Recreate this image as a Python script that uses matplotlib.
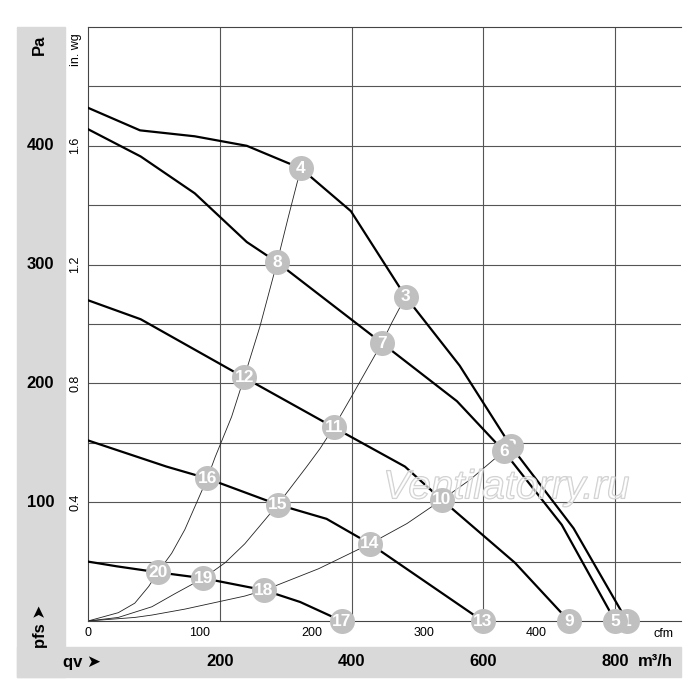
#bibliotecas
import matplotlib.pyplot as plt
import matplotlib.patheffects as pe
import matplotlib.transforms as mtransforms
from matplotlib.patches import Rectangle

#curvas do ventilador: vazao em m3/h e pressao em Pa
curva_a_q = [0, 79, 162, 241, 323, 399, 482, 564, 642, 737, 818]
curva_a_p = [432, 413, 408, 400, 381, 345, 273, 215, 147, 78, 0]

curva_b_q = [0, 80, 162, 241, 287, 446, 560, 631, 719, 800]
curva_b_p = [414, 391, 360, 319, 302, 234, 185, 143, 81, 0]

curva_c_q = [0, 80, 237, 373, 481, 537, 648, 730]
curva_c_p = [270, 254, 205, 163, 130, 102, 49, 0]

curva_d_q = [0, 119, 181, 288, 362, 428, 599]
curva_d_p = [152, 130, 120, 98, 86, 65, 0]

curva_e_q = [0, 44, 106, 175, 267, 322, 385]
curva_e_p = [50, 46, 41, 36, 26, 16, 0]

#curvas do sistema (linhas finas a partir da origem)
sistema_1_q = [0, 46, 71, 92, 106, 127, 147, 162, 181, 193, 218, 237, 261, 287, 304, 323]
sistema_1_p = [0, 7, 15, 29, 41, 57, 77, 96, 120, 138, 172, 205, 248, 302, 340, 381]

sistema_2_q = [0, 46, 97, 132, 175, 208, 238, 288, 332, 352, 373, 399, 446, 461, 482]
sistema_2_p = [0, 3, 12, 23, 36, 49, 65, 98, 130, 145, 163, 188, 234, 251, 273]

sistema_3_q = [0, 71, 97, 147, 238, 268, 350, 428, 484, 537, 580, 631, 642]
sistema_3_p = [0, 3, 5, 10, 21, 26, 44, 65, 82, 102, 119, 143, 147]

#pontos numerados 1..20
pontos_q = [818, 642, 482, 323, 800, 631, 446, 287, 730, 537,
            373, 237, 599, 428, 288, 181, 385, 267, 175, 106]
pontos_p = [0, 147, 273, 381, 0, 143, 234, 302, 0, 102,
            163, 205, 0, 65, 98, 120, 0, 26, 36, 41]

#rotulos dos eixos
pa_ticks = [100, 200, 300, 400]
inwg_ticks = ["0.4", "0.8", "1.2", "1.6"]
m3h_ticks = [200, 400, 600, 800]
cfm_ticks = [0, 100, 200, 300, 400]
CFM_PARA_M3H = 1.699

plt.rcParams['font.family'] = ['Liberation Sans', 'DejaVu Sans']

fig = plt.figure(figsize=(7, 7), dpi=100)

#faixas cinzas
fig.add_artist(Rectangle((17/700, 23/700), 48/700, 650/700, transform=fig.transFigure,
                         color='#d9d9d9', zorder=0))
fig.add_artist(Rectangle((17/700, 23/700), 664/700, 30/700, transform=fig.transFigure,
                         color='#d9d9d9', zorder=0))

ax = fig.add_axes([88/700, 79/700, 593/700, 594/700])
ax.set_xlim(0, 900)
ax.set_ylim(0, 500)
ax.set_xticks(m3h_ticks)
ax.set_yticks(range(50, 500, 50))
ax.grid(color='#555555', lw=0.8)
ax.tick_params(length=0, labelbottom=False, labelleft=False)
ax.spines['right'].set_visible(False)
for lado in ['left', 'top', 'bottom']:
    ax.spines[lado].set_color('#444444')
    ax.spines[lado].set_linewidth(0.8)

#curvas
for q, p in [(curva_a_q, curva_a_p), (curva_b_q, curva_b_p), (curva_c_q, curva_c_p),
             (curva_d_q, curva_d_p), (curva_e_q, curva_e_p)]:
    ax.plot(q, p, color='black', lw=1.6, zorder=3)

for q, p in [(sistema_1_q, sistema_1_p), (sistema_2_q, sistema_2_p), (sistema_3_q, sistema_3_p)]:
    ax.plot(q, p, color='#222222', lw=0.6, zorder=2)

#marca d'agua
ax.text(0.705, 0.225, "Ventilatorry.ru", transform=ax.transAxes, fontsize=29, style='italic',
        ha='center', va='center', color=(1, 1, 1, 0.4), zorder=4,
        path_effects=[pe.withStroke(linewidth=1.0, foreground='#cccccc')])

#pontos numerados
for i, (q, p) in enumerate(zip(pontos_q, pontos_p)):
    ax.plot(q, p, 'o', ms=18, color='#c0c0c0', mec='none', zorder=10 + 2*i, clip_on=False)
    ax.text(q, p, str(i + 1), color='white', fontsize=12.5, weight='bold',
            ha='center', va='center', zorder=11 + 2*i, clip_on=False)

#rotulos da esquerda
trans_y = mtransforms.blended_transform_factory(fig.transFigure, ax.transData)
for valor, rotulo in zip(pa_ticks, inwg_ticks):
    ax.text(40.5/700, valor, str(valor), transform=trans_y, fontsize=12, weight='bold',
            ha='center', va='center')
    ax.text(75.5/700, valor, rotulo, transform=trans_y, fontsize=9,
            rotation=90, ha='center', va='center')
fig.text(39/700, 1 - 45/700, "Pa", rotation=90, fontsize=12, weight='bold',
         ha='center', va='center')
fig.text(75.5/700, 1 - 50/700, "in. wg", rotation=90, fontsize=9, ha='center', va='center')
fig.text(41/700, 52/700, "pfs ➤", rotation=90, fontsize=12, weight='bold',
         ha='center', va='bottom')

#rotulos de baixo
trans_x = mtransforms.blended_transform_factory(ax.transData, fig.transFigure)
for valor in cfm_ticks:
    ax.text(valor*CFM_PARA_M3H, 67/700, str(valor), transform=trans_x, fontsize=9,
            ha='center', va='center')
fig.text(664/700, 66/700, "cfm", fontsize=9, ha='center', va='center')
for valor in m3h_ticks:
    ax.text(valor, 38/700, str(valor), transform=trans_x, fontsize=12, weight='bold',
            ha='center', va='center')
fig.text(638/700, 38/700, "m³/h", fontsize=12, weight='bold', ha='left', va='center')
fig.text(63/700, 38/700, "qv ➤", fontsize=12, weight='bold', ha='left', va='center')

plt.savefig("out.png", dpi=100)
